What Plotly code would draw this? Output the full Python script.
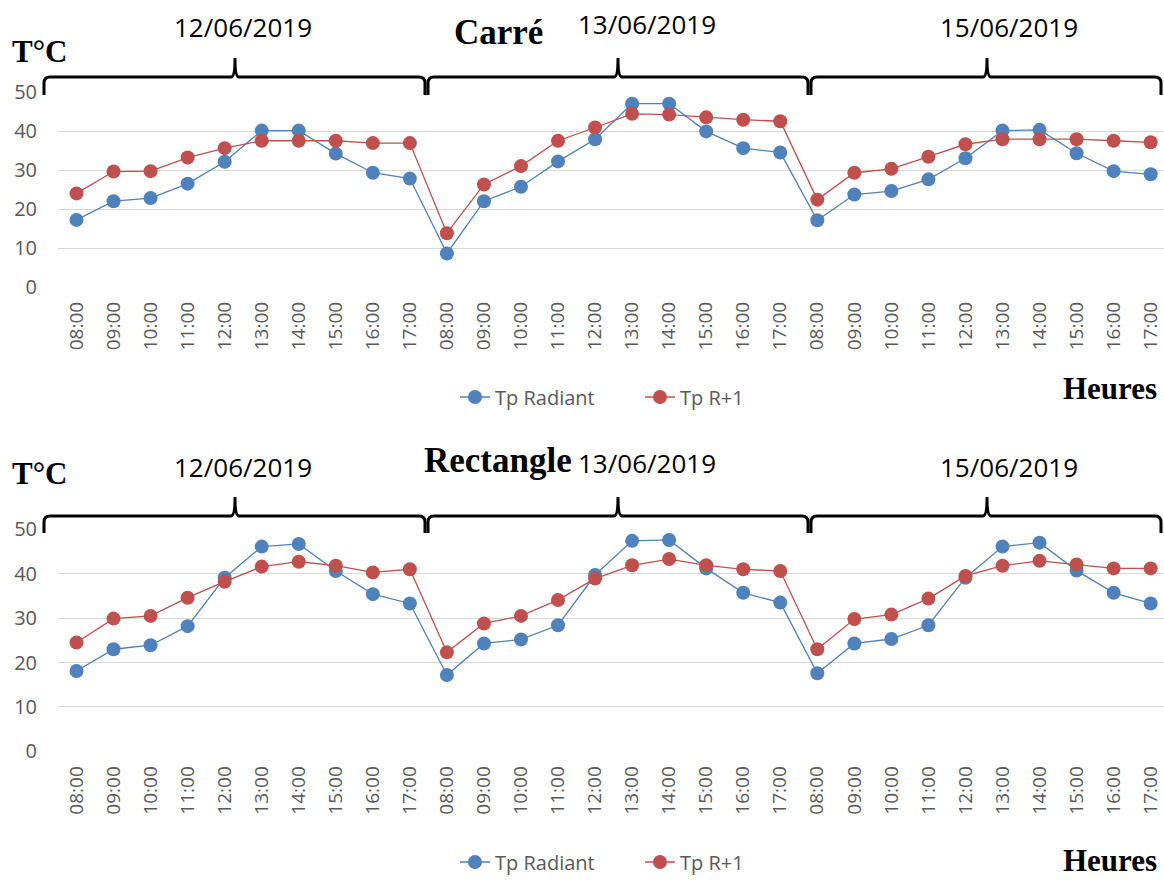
import plotly.graph_objects as go

# Hourly readings, three measurement days
hours = ["08:00", "09:00", "10:00", "11:00", "12:00",
         "13:00", "14:00", "15:00", "16:00", "17:00"]
days = ["12/06/2019", "13/06/2019", "15/06/2019"]

# Carré (square room)
carre_radiant = [17.2, 22.0, 22.8, 26.5, 32.1, 40.1, 40.1, 34.2, 29.3, 27.8,
                 8.6, 22.0, 25.7, 32.2, 37.9, 47.0, 47.0, 39.9, 35.6, 34.5,
                 17.1, 23.7, 24.6, 27.6, 33.0, 40.1, 40.3, 34.3, 29.7, 28.9]
carre_r1 = [24.0, 29.6, 29.7, 33.2, 35.6, 37.5, 37.5, 37.5, 36.9, 36.9,
            13.8, 26.3, 31.0, 37.5, 40.9, 44.4, 44.2, 43.5, 42.9, 42.5,
            22.4, 29.3, 30.3, 33.4, 36.6, 37.9, 37.9, 37.9, 37.5, 37.1]

# Rectangle (rectangular room)
rect_radiant = [18.1, 23.0, 23.9, 28.2, 39.1, 46.1, 46.7, 40.6, 35.4, 33.3,
                17.2, 24.3, 25.2, 28.4, 39.7, 47.4, 47.6, 41.2, 35.7, 33.5,
                17.6, 24.3, 25.3, 28.4, 39.1, 46.1, 47.0, 40.7, 35.7, 33.3]
rect_r1 = [24.5, 29.9, 30.5, 34.6, 38.2, 41.6, 42.7, 41.8, 40.3, 41.0,
           22.3, 28.8, 30.5, 34.1, 38.9, 41.9, 43.3, 41.9, 41.0, 40.6,
           23.0, 29.8, 30.8, 34.4, 39.5, 41.8, 42.9, 42.1, 41.2, 41.2]

series_names = ["Tp Radiant", "Tp R+1"]
y_ticks = [0, 10, 20, 30, 40, 50]

W, H = 1164, 880
BLUE = "#4F81BD"
RED = "#C0504D"
GREY_TXT = "#595959"
GRID = "#D9D9D9"

tick_text = hours * len(days)
x = list(range(len(tick_text)))


def px(v):
    return v / W


def py(v):
    return 1 - v / H


fig = go.Figure()

panels = [
    ("x", "y", "legend", carre_radiant, carre_r1),
    ("x2", "y2", "legend2", rect_radiant, rect_r1),
]
for xa, ya, leg, radiant, r1 in panels:
    for name, vals, col in [(series_names[0], radiant, BLUE),
                            (series_names[1], r1, RED)]:
        fig.add_trace(go.Scatter(
            x=x, y=vals, name=name, mode="lines+markers",
            xaxis=xa, yaxis=ya, legend=leg,
            line=dict(color=col, width=1.3),
            marker=dict(color=col, size=14, line=dict(width=0)),
        ))

x_domain = [px(58), 1.0]
x_range = [-0.5, 29.36]

xaxis_common = dict(
    domain=x_domain, range=x_range, tickmode="array",
    tickvals=x, ticktext=tick_text, tickangle=-90,
    tickfont=dict(family="Open Sans", size=19, color=GREY_TXT),
    showgrid=False, zeroline=False, showline=False, ticks="",
    ticklabelstandoff=10, automargin=False,
)
yaxis_common = dict(
    range=[0, 50], tickvals=y_ticks,
    tickfont=dict(family="Open Sans", size=20, color=GREY_TXT),
    showgrid=True, gridcolor=GRID, gridwidth=1, zeroline=False,
    showline=False, ticks="", ticklabelstandoff=20, automargin=False,
)

legend_common = dict(
    orientation="h", x=px(455), xanchor="left", yanchor="middle",
    bgcolor="rgba(0,0,0,0)", entrywidth=140, entrywidthmode="pixels",
    font=dict(family="Open Sans", size=20, color=GREY_TXT),
)

fig.update_layout(
    width=W, height=H, autosize=False,
    margin=dict(l=0, r=0, t=0, b=0, autoexpand=False),
    paper_bgcolor="white", plot_bgcolor="white",
    xaxis=dict(**xaxis_common, anchor="y"),
    yaxis=dict(**yaxis_common, domain=[py(287), py(92)], anchor="x"),
    xaxis2=dict(**xaxis_common, anchor="y2"),
    yaxis2=dict(**yaxis_common, domain=[py(751.4), py(529.3)], anchor="x2"),
    legend=dict(**legend_common, y=py(397)),
    legend2=dict(**legend_common, y=py(862)),
    showlegend=True,
)


def brace_path(x0, x1, xm, y_end, y_line, y_peak, r=6):
    pts = []
    pts.append(f"M {px(x0)},{py(y_end)}")
    pts.append(f"L {px(x0)},{py(y_line + r)}")
    pts.append(f"Q {px(x0)},{py(y_line)} {px(x0 + r)},{py(y_line)}")
    pts.append(f"L {px(xm - 4)},{py(y_line)}")
    pts.append(f"Q {px(xm)},{py(y_line)} {px(xm)},{py(y_peak)}")
    pts.append(f"Q {px(xm)},{py(y_line)} {px(xm + 4)},{py(y_line)}")
    pts.append(f"L {px(x1 - r)},{py(y_line)}")
    pts.append(f"Q {px(x1)},{py(y_line)} {px(x1)},{py(y_line + r)}")
    pts.append(f"L {px(x1)},{py(y_end)}")
    return " ".join(pts)


# brace spans (pixel columns) for the three days, and label positions
brace_spans = [(44, 425, 235), (428, 808, 618), (811, 1161, 987)]
label_x = [243, 647, 1009]

panel_text = [
    # (title, title_y, brace end y, brace line y, brace peak y, label y, T y, Heures bottom y)
    ("Carré", 33, 95, 77, 58, [27, 24, 27], 52, 408),
    ("Rectangle", 460, 533, 516, 497, [467, 463, 467], 473, 880),
]

for title, ty, y_end, y_line, y_peak, lab_y, t_y, h_y in panel_text:
    for (x0, x1, xm), lx, ly, day in zip(brace_spans, label_x, lab_y, days):
        fig.add_shape(type="path", xref="paper", yref="paper",
                      path=brace_path(x0, x1, xm, y_end, y_line, y_peak),
                      line=dict(color="black", width=3))
        fig.add_annotation(x=px(lx), y=py(ly), xref="paper", yref="paper",
                           text=day, showarrow=False, xanchor="center",
                           yanchor="middle",
                           font=dict(family="Open Sans", size=26, color="black"))
    fig.add_annotation(x=px(498), y=py(ty), xref="paper", yref="paper",
                       text=f"<b>{title}</b>", showarrow=False,
                       xanchor="center", yanchor="middle",
                       font=dict(family="Liberation Serif", size=35, color="black"))
    fig.add_annotation(x=px(10), y=py(t_y), xref="paper", yref="paper",
                       text="<b>T°C</b>", showarrow=False,
                       xanchor="left", yanchor="middle",
                       font=dict(family="Liberation Serif", size=31, color="black"))
    fig.add_annotation(x=px(1159), y=py(h_y), xref="paper", yref="paper",
                       text="<b>Heures</b>", showarrow=False,
                       xanchor="right", yanchor="bottom",
                       font=dict(family="Liberation Serif", size=31, color="black"))

fig.write_html("out.html")
